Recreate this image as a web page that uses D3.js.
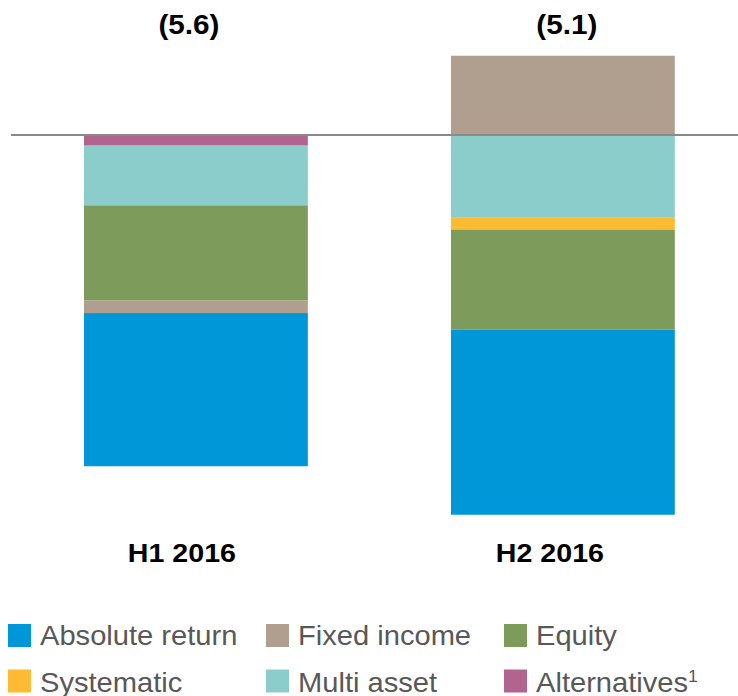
<!DOCTYPE html>
<html>
<head>
<meta charset="utf-8">
<script src="https://cdn.jsdelivr.net/npm/d3@7/dist/d3.min.js"></script>
<style>
  html, body { margin: 0; padding: 0; background: #ffffff; }
  svg { display: block; }
</style>
</head>
<body>
<svg id="chart" width="738" height="696"></svg>
<script>
// ---- data ----
const categories = ["H1 2016", "H2 2016"];
const totalLabels = ["(5.6)", "(5.1)"];
const seriesKeys = ["Alternatives", "Multi asset", "Systematic", "Equity", "Fixed income", "Absolute return"];
const absoluteReturn = [-2.59, -3.13];
const fixedIncome    = [-0.21,  1.34];
const equity         = [-1.61, -1.69];
const systematic     = [ 0.00, -0.20];
const multiAsset     = [-1.01, -1.40];
const alternatives   = [-0.18,  0.00];
const legendOrder = ["Absolute return", "Fixed income", "Equity", "Systematic", "Multi asset", "Alternatives"];

// ---- styles ----
const colors = {
  "Absolute return": "#0097D9",
  "Fixed income": "#B09F8F",
  "Equity": "#7D9B5A",
  "Systematic": "#FCBB33",
  "Multi asset": "#8BCDCA",
  "Alternatives": "#B0648E"
};

const seriesValues = {
  "Absolute return": absoluteReturn,
  "Fixed income": fixedIncome,
  "Equity": equity,
  "Systematic": systematic,
  "Multi asset": multiAsset,
  "Alternatives": alternatives
};

const table = categories.map((c, i) => {
  const row = { category: c };
  seriesKeys.forEach(k => row[k] = seriesValues[k][i]);
  return row;
});

const svg = d3.select("#chart");

const x = d3.scaleBand()
  .domain(categories)
  .range([84, 674.8])
  .paddingInner(0.39)
  .paddingOuter(0);

const y = d3.scaleLinear()
  .domain([-7, 2])
  .range([549.05, 16.7]);

const stack = d3.stack()
  .keys(seriesKeys)
  .offset(d3.stackOffsetDiverging);
const stacked = stack(table);

const gBars = svg.append("g");
gBars.selectAll("g.series")
  .data(stacked)
  .join("g")
  .attr("class", "series")
  .attr("fill", d => colors[d.key])
  .selectAll("rect")
  .data(d => d)
  .join("rect")
  .attr("x", d => x(d.data.category))
  .attr("width", x.bandwidth())
  .attr("y", d => y(Math.max(d[0], d[1])))
  .attr("height", d => Math.abs(y(d[0]) - y(d[1])));

// zero line
svg.append("line")
  .attr("x1", 11).attr("x2", 738)
  .attr("y1", y(0)).attr("y2", y(0))
  .attr("stroke", "#8A8A8A")
  .attr("stroke-width", 2);

const font = "'Liberation Sans', Arial, Helvetica, sans-serif";

// total labels on top
const topDx = [-7, 4];
svg.append("g").selectAll("text")
  .data(categories)
  .join("text")
  .attr("transform", (d, i) => `translate(${x(d) + x.bandwidth() / 2 + topDx[i]},33.5) scale(1.1,1)`)
  .attr("text-anchor", "middle")
  .attr("font-family", font)
  .attr("font-weight", "bold")
  .attr("font-size", 27)
  .attr("fill", "#000")
  .text((d, i) => totalLabels[i]);

// category labels
const catDx = [-14, -13];
svg.append("g").selectAll("text")
  .data(categories)
  .join("text")
  .attr("transform", (d, i) => `translate(${x(d) + x.bandwidth() / 2 + catDx[i]},562) scale(1.1,1)`)
  .attr("text-anchor", "middle")
  .attr("font-family", font)
  .attr("font-weight", "bold")
  .attr("font-size", 26)
  .attr("fill", "#000")
  .text(d => d);

// legend
const colX = [8, 266, 504];
const rowY = [624, 669.5];
const rowBase = [645, 691.5];
const legend = svg.append("g");
legendOrder.forEach((k, i) => {
  const c = i % 3, r = Math.floor(i / 3);
  legend.append("rect")
    .attr("x", colX[c]).attr("y", rowY[r])
    .attr("width", 23).attr("height", 23)
    .attr("fill", colors[k]);
  const t = legend.append("text")
    .attr("transform", `translate(${colX[c] + 32},${rowBase[r]}) scale(1.04,1)`)
    .attr("font-family", font)
    .attr("font-size", 28)
    .attr("fill", "#585858")
    .text(k);
  if (k === "Alternatives") {
    t.append("tspan")
      .attr("font-size", 17)
      .attr("dy", -10)
      .text("1");
  }
});
</script>
</body>
</html>
